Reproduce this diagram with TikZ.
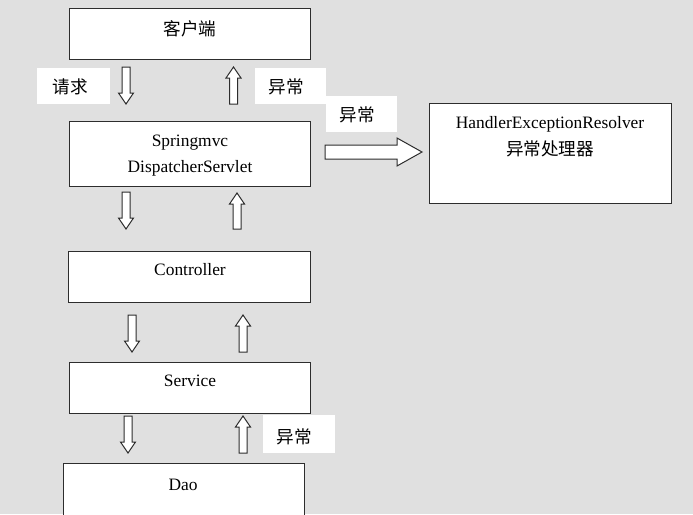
\documentclass[tikz,border=0pt]{standalone}
\usepackage{fontspec}
\setmainfont{Liberation Serif}
\newfontfamily\cjk{Noto Sans CJK SC}
\definecolor{bgc}{RGB}{224,224,224}
\definecolor{edge}{RGB}{45,45,45}
\newcommand\arrdown[3]{\draw[blk] (#1-4,#2) -- (#1+4,#2) -- (#1+4,#3-11) -- (#1+7.5,#3-11) -- (#1,#3) -- (#1-7.5,#3-11) -- (#1-4,#3-11) -- cycle;}
\newcommand\arrup[3]{\draw[blk] (#1-4,#3) -- (#1+4,#3) -- (#1+4,#2+11) -- (#1+7.5,#2+11) -- (#1,#2) -- (#1-7.5,#2+11) -- (#1-4,#2+11) -- cycle;}
\tikzset{
  box/.style={draw=edge, line width=1.2pt, fill=white, anchor=north west, inner sep=0pt},
  lbl/.style={fill=white, inner sep=0pt, anchor=north west},
  txt/.style={font=\fontsize{17.4}{20}\selectfont, inner sep=0pt},
  ctxt/.style={font=\cjk\fontsize{17.6}{20}\selectfont, inner sep=0pt},
  blk/.style={draw=edge, line width=1pt, fill=white, line join=miter}
}
\begin{document}
\begin{tikzpicture}[x=1pt,y=-1pt]
\clip (0,0) rectangle (693,514);
\fill[bgc] (0,0) rectangle (693,514);
% boxes
\node[box, minimum width=241, minimum height=51] (client) at (69,8) {};
\node[box, minimum width=241, minimum height=65] (disp) at (69,121) {};
\node[box, minimum width=242, minimum height=100] (hand) at (429,103) {};
\node[box, minimum width=242, minimum height=51] (ctrl) at (68,251) {};
\node[box, minimum width=241, minimum height=51] (serv) at (69,362) {};
\node[box, minimum width=241, minimum height=80] (dao) at (63,463) {};
% box texts
\node[ctxt] (tclient) at (190,29) {客户端};
\node[txt] (tdisp1) at (190,143) {Springmvc};
\node[txt] (tdisp2) at (190,168) {DispatcherServlet};
\node[txt] (thand1) at (550,124) {HandlerExceptionResolver};
\node[ctxt] (thand2) at (550,149) {异常处理器};
\node[txt] (tctrl) at (190,270) {Controller};
\node[txt] (tserv) at (190,381) {Service};
\node[txt] (tdao) at (183,485) {Dao};
% labels
\node[lbl, minimum width=73, minimum height=36] (lq) at (37,68) {};
\node[ctxt] (tq) at (70,87) {请求};
\node[lbl, minimum width=71, minimum height=36] (le1) at (255,68) {};
\node[ctxt] (te1) at (286,87) {异常};
\node[lbl, minimum width=71, minimum height=36] (le2) at (326,96) {};
\node[ctxt] (te2) at (357,115) {异常};
\node[lbl, minimum width=72, minimum height=38] (le3) at (263,415) {};
\node[ctxt] (te3) at (294,437) {异常};
% block arrows
\arrdown{126}{67}{104}
\arrup{233.5}{67}{104}
\draw[blk] (325,145) -- (397,145) -- (397,138) -- (422,152) -- (397,166) -- (397,159) -- (325,159) -- cycle;
\arrdown{126}{192}{229}
\arrup{237}{193}{229}
\arrdown{132}{315}{352}
\arrup{243}{315}{352}
\arrdown{128}{416}{453}
\arrup{243}{416}{453}
\end{tikzpicture}
\end{document}
